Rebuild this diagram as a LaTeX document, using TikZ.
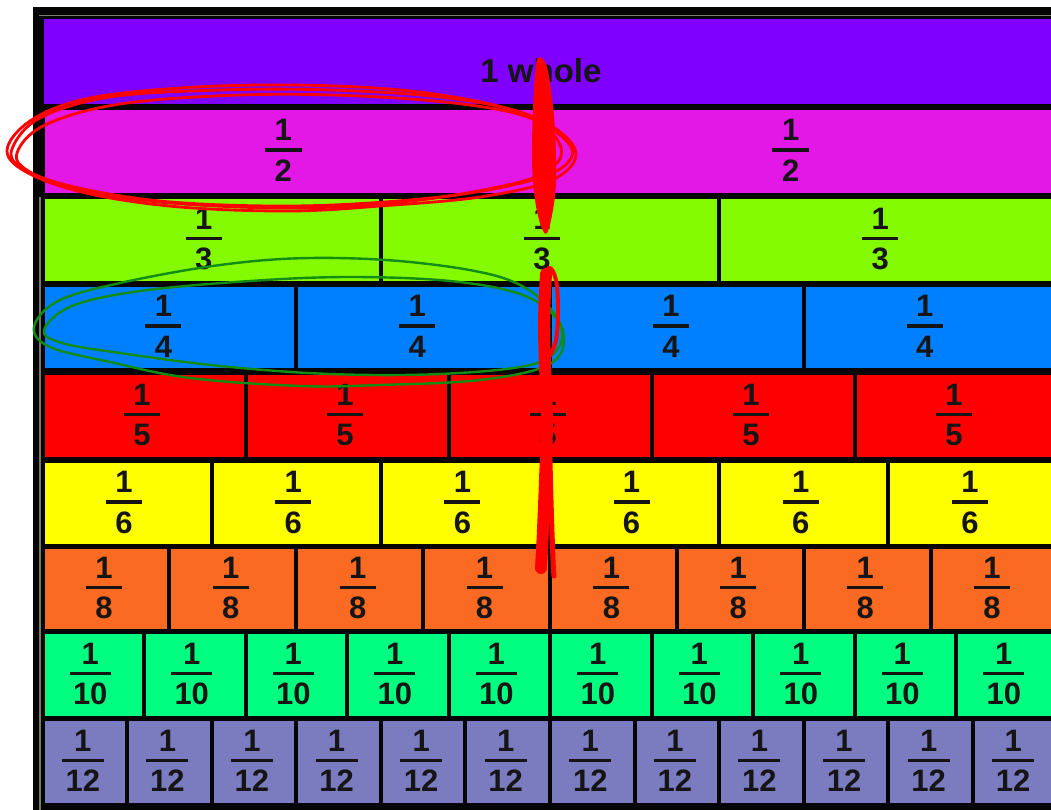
\documentclass[tikz,border=0pt]{standalone}
\usepackage{fontspec}
\setmainfont{Liberation Sans}
\definecolor{cpurple}{HTML}{7F00FF}
\definecolor{cmag}{HTML}{E317E6}
\definecolor{clime}{HTML}{84FA00}
\definecolor{cblue}{HTML}{0080FF}
\definecolor{cred}{HTML}{FF0000}
\definecolor{cyellow}{HTML}{FFFF00}
\definecolor{corange}{HTML}{FB6A22}
\definecolor{csgreen}{HTML}{00FF80}
\definecolor{clav}{HTML}{7B7BC0}
\definecolor{cframe}{HTML}{050505}
\definecolor{cgrayline}{HTML}{7A7A6A}
\definecolor{cink}{HTML}{151515}
\definecolor{cmarkred}{HTML}{FF0000}
\definecolor{cmarkgreen}{HTML}{128C12}
\tikzset{
  cell/.style={inner sep=0pt, outer sep=0pt, draw=none},
  digit/.style={inner sep=0pt, text=cink, font=\fontsize{31}{36}\selectfont\bfseries},
  fbar/.style={inner sep=0pt, fill=cink, minimum height=3.6pt},
  redring/.style={draw=cmarkred, line width=2.8pt},
  greenring/.style={draw=cmarkgreen, line width=2.4pt},
}
\begin{document}
\begin{tikzpicture}[x=1pt,y=-1pt]
\useasboundingbox (0,0) rectangle (1051,810);
\clip (0,0) rectangle (1051,810);
\fill[white] (0,0) rectangle (1051,810);
% frame
\fill[cframe] (33,7) rectangle (1080,840);
\draw[cgrayline, line width=1.4pt] (39,15.5) -- (1080,15.5);
\draw[cgrayline, line width=1.4pt] (40,197) -- (40,840);
% whole bar
\node[cell, fill=cpurple, minimum width=1014pt, minimum height=85pt] (whole) at (551,61.5) {};
\node[inner sep=0pt, text=cink, font=\fontsize{33}{38}\selectfont\bfseries] (wholetxt) at (541,71) {1 whole};
% fraction rows
\foreach \d/\col/\ya/\yb/\off/\bw in {2/cmag/110/193/13/37, 3/clime/199/281/8/36, 4/cblue/287/368/6/36, 5/cred/375/457/2/36, 6/cyellow/463/544/3/36, 8/corange/549/629/2/36, 10/csgreen/634/716/3/41, 12/clav/721/803/2/42}{
  \foreach \i in {1,...,\d}{
    \pgfmathsetmacro\cw{1015/\d}
    \pgfmathsetmacro\xa{42.5+(\i-1)*\cw+2}
    \pgfmathsetmacro\xb{42.5+\i*\cw-2}
    \pgfmathsetmacro\cx{(\xa+\xb)/2}
    \pgfmathsetmacro\cy{(\ya+\yb)/2}
    \pgfmathsetmacro\w{\xb-\xa}
    \pgfmathsetmacro\h{\yb-\ya}
    \pgfmathsetmacro\lx{42.5+(\i-0.5)*\cw-\off}
    \node[cell, fill=\col, minimum width=\w pt, minimum height=\h pt] (c\d-\i) at (\cx,\cy) {};
    \node[digit] (t\d-\i) at (\lx,\cy-21.5) {1};
    \node[fbar, minimum width=\bw pt] (r\d-\i) at (\lx,\cy-1.5) {};
    \node[digit] (b\d-\i) at (\lx,\cy+19) {\d};
  }
}
% green ring around two quarters
\draw[greenring] plot[smooth cycle, tension=0.6] coordinates {(34,327) (58,301) (120,283) (220,265) (310,258) (410,262) (500,277) (545,303) (564,337) (548,365) (480,380) (380,385) (300,386) (190,378) (110,362) (50,347)};
\draw[greenring] plot[smooth cycle, tension=0.6] coordinates {(44,330) (72,306) (140,291) (250,281) (350,277) (450,281) (520,294) (556,318) (560,345) (530,365) (440,374) (330,374) (220,366) (120,353) (62,343)};
% red ring around one half
\draw[redring] plot[smooth cycle, tension=0.6] coordinates {(7,151) (30,121) (85,99) (180,88) (290,85) (400,90) (490,104) (548,124) (576,153) (552,180) (480,197) (380,206) (290,211) (180,207) (90,194) (30,174)};
\draw[redring] plot[smooth cycle, tension=0.6] coordinates {(12,149) (40,118) (110,97) (220,90) (330,90) (440,97) (520,112) (560,135) (572,156) (545,176) (470,193) (370,203) (270,206) (160,201) (70,186) (22,168)};
\draw[redring] plot[smooth cycle, tension=0.6] coordinates {(17,153) (45,125) (120,104) (240,95) (360,96) (470,105) (535,120) (560,145) (555,165) (520,182) (420,200) (300,208) (170,203) (80,190) (30,172)};
% red vertical marks
\fill[cmarkred] plot[smooth cycle, tension=0.6] coordinates {(538,58) (546,64) (551,90) (555,130) (556,180) (553,210) (547,233) (541,226) (535,200) (532,160) (533,110) (535,75)};
\draw[cmarkred, line width=12pt, line cap=round] plot[smooth, tension=0.6] coordinates {(546,274) (544,320) (545,365) (547,420) (545,480) (543,530) (541,568)};
\draw[cmarkred, line width=5pt, line cap=round] plot[smooth, tension=0.6] coordinates {(549,420) (551,500) (553,560) (554,576)};
\draw[cmarkred, line width=4pt, line cap=round] plot[smooth, tension=0.6] coordinates {(542,285) (549,268) (556,280) (558,310) (556,340) (549,357)};
\end{tikzpicture}
\end{document}
